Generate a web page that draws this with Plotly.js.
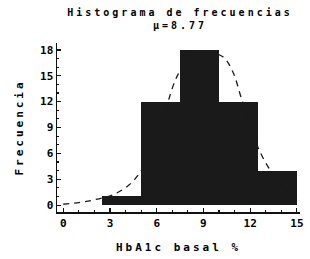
<!DOCTYPE html>
<html><head><meta charset="utf-8">
<script src="https://cdn.plot.ly/plotly-3.0.1.min.js"></script>
<style>
html,body{margin:0;padding:0;background:#fff}#c{width:310px;height:259px}
#c .gtitle, #c .g-xtitle text, #c .g-ytitle text{letter-spacing:3px}
</style>
</head><body><div id="c"></div>
<script>
const binCenters = [3.75, 6.25, 8.75, 11.25, 13.75];
const counts = [1, 12, 18, 12, 4];
const curveX = [0, 0.6, 1.4, 2.2, 3.2, 4.2, 4.9, 5.5, 6.0, 6.5, 6.8, 7.3, 8.0, 9.1, 10.25, 10.9, 11.4, 12.0, 12.5, 13.2, 13.9, 14.5, 15.0];
const curveY = [0.1, 0.2, 0.4, 0.7, 1.2, 2.3, 3.7, 5.6, 7.9, 10.2, 12.4, 14.9, 16.9, 17.7, 17.2, 15.4, 12.6, 9.4, 6.7, 4.3, 2.6, 1.5, 0.9];
const xTicks = [0, 3, 6, 9, 12, 15];
const yTicks = [0, 3, 6, 9, 12, 15, 18];
const f = {family: 'DejaVu Sans Mono, monospace', color: '#000', size: 11, weight: 'bold'};
Plotly.newPlot('c', [
  {type: 'bar', x: binCenters, y: counts, width: 2.5, marker: {color: '#1a1a1a', line: {width: 0}}, hoverinfo: 'none'},
  {type: 'scatter', mode: 'lines', x: curveX, y: curveY, line: {color: '#1a1a1a', dash: '6px,5px', width: 1.3, shape: 'spline'}, hoverinfo: 'none'}
], {
  width: 310, height: 259, showlegend: false, bargap: 0,
  paper_bgcolor: '#fff', plot_bgcolor: '#fff',
  margin: {l: 57, r: 10, t: 43, b: 47},
  title: {text: 'Histograma de frecuencias<br>μ=8.77', font: Object.assign({}, f, {size: 10}),
          x: 180/310, xref: 'container', xanchor: 'center', y: 1 - 16/259, yref: 'container', yanchor: 'middle'},
  xaxis: {range: [-0.4, 15.2], tickvals: xTicks, ticktext: xTicks.map(String), ticks: 'inside', ticklen: 4, tickwidth: 1.2, tickcolor: '#111',
          minor: {dtick: 1, ticks: 'inside', ticklen: 2, tickcolor: '#111'},
          showline: true, linecolor: '#111', linewidth: 1.5, showgrid: false, zeroline: false, tickfont: f,
          title: {text: 'HbA1c basal %', font: f, standoff: 14}},
  yaxis: {range: [-0.8, 18.8], tickvals: yTicks, ticktext: yTicks.map(String), ticks: 'inside', ticklen: 4, tickwidth: 1.2, tickcolor: '#111',
          minor: {dtick: 1, ticks: 'inside', ticklen: 2, tickcolor: '#111'},
          showline: true, linecolor: '#111', linewidth: 1.5, showgrid: false, zeroline: false, tickfont: f,
          title: {text: 'Frecuencia', font: f, standoff: 14}}
}, {staticPlot: true, displayModeBar: false});
</script></body></html>
